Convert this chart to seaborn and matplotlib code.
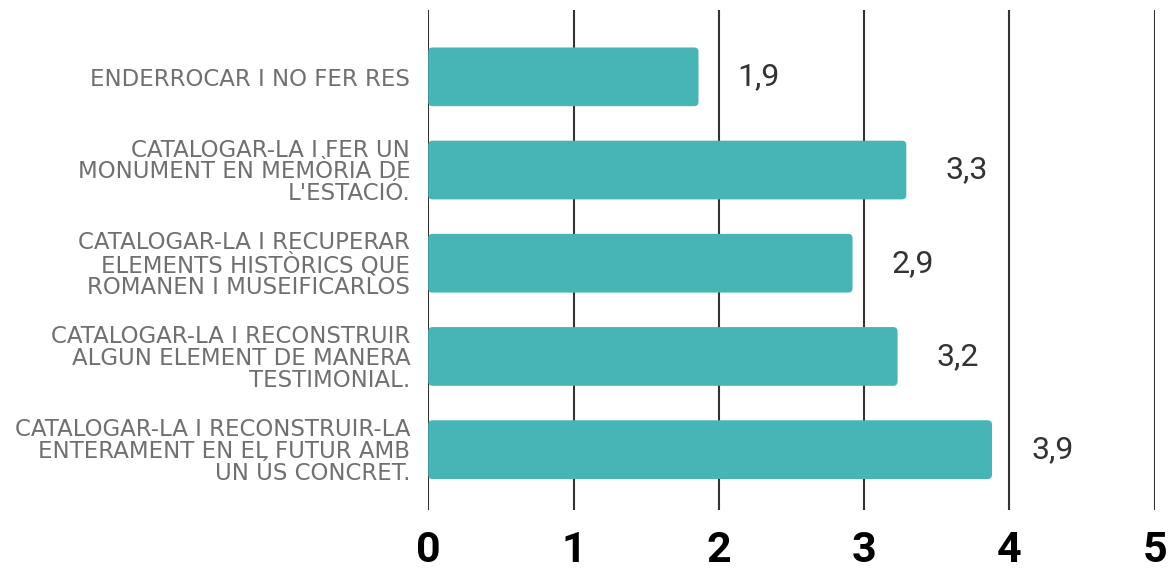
import matplotlib
matplotlib.use("Agg")
import matplotlib.pyplot as plt
from matplotlib.patches import FancyBboxPatch
import seaborn as sns
import pandas as pd

# Data
options = [
    "ENDERROCAR I NO FER RES",
    "CATALOGAR-LA I FER UN\nMONUMENT EN MEMÒRIA DE\nL'ESTACIÓ.",
    "CATALOGAR-LA I RECUPERAR\nELEMENTS HISTÒRICS QUE\nROMANEN I MUSEIFICARLOS",
    "CATALOGAR-LA I RECONSTRUIR\nALGUN ELEMENT DE MANERA\nTESTIMONIAL.",
    "CATALOGAR-LA I RECONSTRUIR-LA\nENTERAMENT EN EL FUTUR AMB\nUN ÚS CONCRET.",
]
scores = [1.86, 3.29, 2.92, 3.23, 3.88]
x_ticks = [0, 1, 2, 3, 4, 5]

df = pd.DataFrame({"option": options, "score": scores})

sns.set_style("white")
plt.rcParams["font.family"] = ["Roboto", "DejaVu Sans"]

fig = plt.figure(figsize=(11.7, 5.72), dpi=100)
ax = fig.add_axes([0.366, 0.108, 0.621, 0.875])

bar_color = "#47b4b6"
sns.barplot(data=df, x="score", y="option", orient="h", color=bar_color,
            width=0.63, saturation=1, ax=ax, zorder=3)

# swap plain rectangles for slightly rounded ones
for p in list(ax.patches):
    x0, y0 = p.get_x(), p.get_y()
    w, h = p.get_width(), p.get_height()
    p.remove()
    ax.add_patch(FancyBboxPatch((x0, y0), w, h,
                                boxstyle="round,pad=0,rounding_size=0.03",
                                mutation_aspect=145 / 93,
                                facecolor=bar_color, edgecolor="none", zorder=3))

ax.set_xlim(0, 5)
ax.set_ylim(4.65, -0.72)
ax.set_xticks(x_ticks)
ax.set_xticklabels([str(t) for t in x_ticks], fontsize=31, fontweight="bold",
                   color="black")
ax.tick_params(axis="x", length=0, pad=14)
ax.tick_params(axis="y", length=0, pad=13)
for lbl in ax.get_yticklabels():
    lbl.set_multialignment("right")
    lbl.set_fontsize(16.5)
    lbl.set_color("#707070")
    lbl.set_family(["DejaVu Sans"])
    lbl.set_linespacing(0.94)

for t in x_ticks:
    ax.axvline(t, color="#333333", linewidth=1.5, zorder=1)

for i, v in enumerate(scores):
    ax.text(v + 0.27, i, f"{v:.1f}".replace(".", ","), va="center", ha="left",
            fontsize=23, color="#333333")

for s in ax.spines.values():
    s.set_visible(False)
ax.set_xlabel("")
ax.set_ylabel("")

fig.savefig("out.png", dpi=100)
